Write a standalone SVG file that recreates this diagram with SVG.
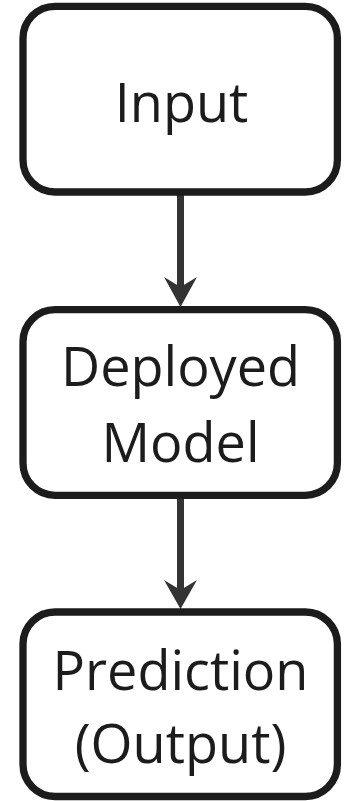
<svg xmlns="http://www.w3.org/2000/svg" width="347" height="801" viewBox="0 0 347 801">
  <style>
    .box { fill: #ffffff; stroke: #1c1c1c; stroke-width: 7.3; }
    .label { font-family: "Open Sans", "Noto Sans", sans-serif; font-size: 54px; fill: #1c1c1c; text-anchor: middle; }
    .edge { stroke: #333333; stroke-width: 7; fill: none; }
    .head { fill: #333333; }
  </style>
  <rect width="347" height="801" fill="#ffffff"/>

  <!-- connectors -->
  <g id="connectors">
    <line class="edge" x1="180.5" y1="195" x2="180.5" y2="290"/>
    <polygon class="head" points="164,277 180.5,307 197,277 180.5,287"/>
    <line class="edge" x1="180.5" y1="498" x2="180.5" y2="593"/>
    <polygon class="head" points="164,580 180.5,609 197,580 180.5,590"/>
  </g>

  <!-- nodes -->
  <g id="input">
    <rect class="box" x="23" y="6.3" width="314.4" height="185.7" rx="32" ry="32"/>
    <text class="label" x="181.5" y="121.5">Input</text>
  </g>

  <g id="deployed-model">
    <rect class="box" x="23" y="309.7" width="314.4" height="185.6" rx="32" ry="32"/>
    <text class="label" x="180.5" y="386">Deployed</text>
    <text class="label" x="180.5" y="462.3">Model</text>
  </g>

  <g id="prediction">
    <rect class="box" x="23" y="612" width="314.4" height="184.5" rx="32" ry="32"/>
    <text class="label" x="180.5" y="690">Prediction</text>
    <text class="label" x="180.5" y="763">(Output)</text>
  </g>
</svg>
